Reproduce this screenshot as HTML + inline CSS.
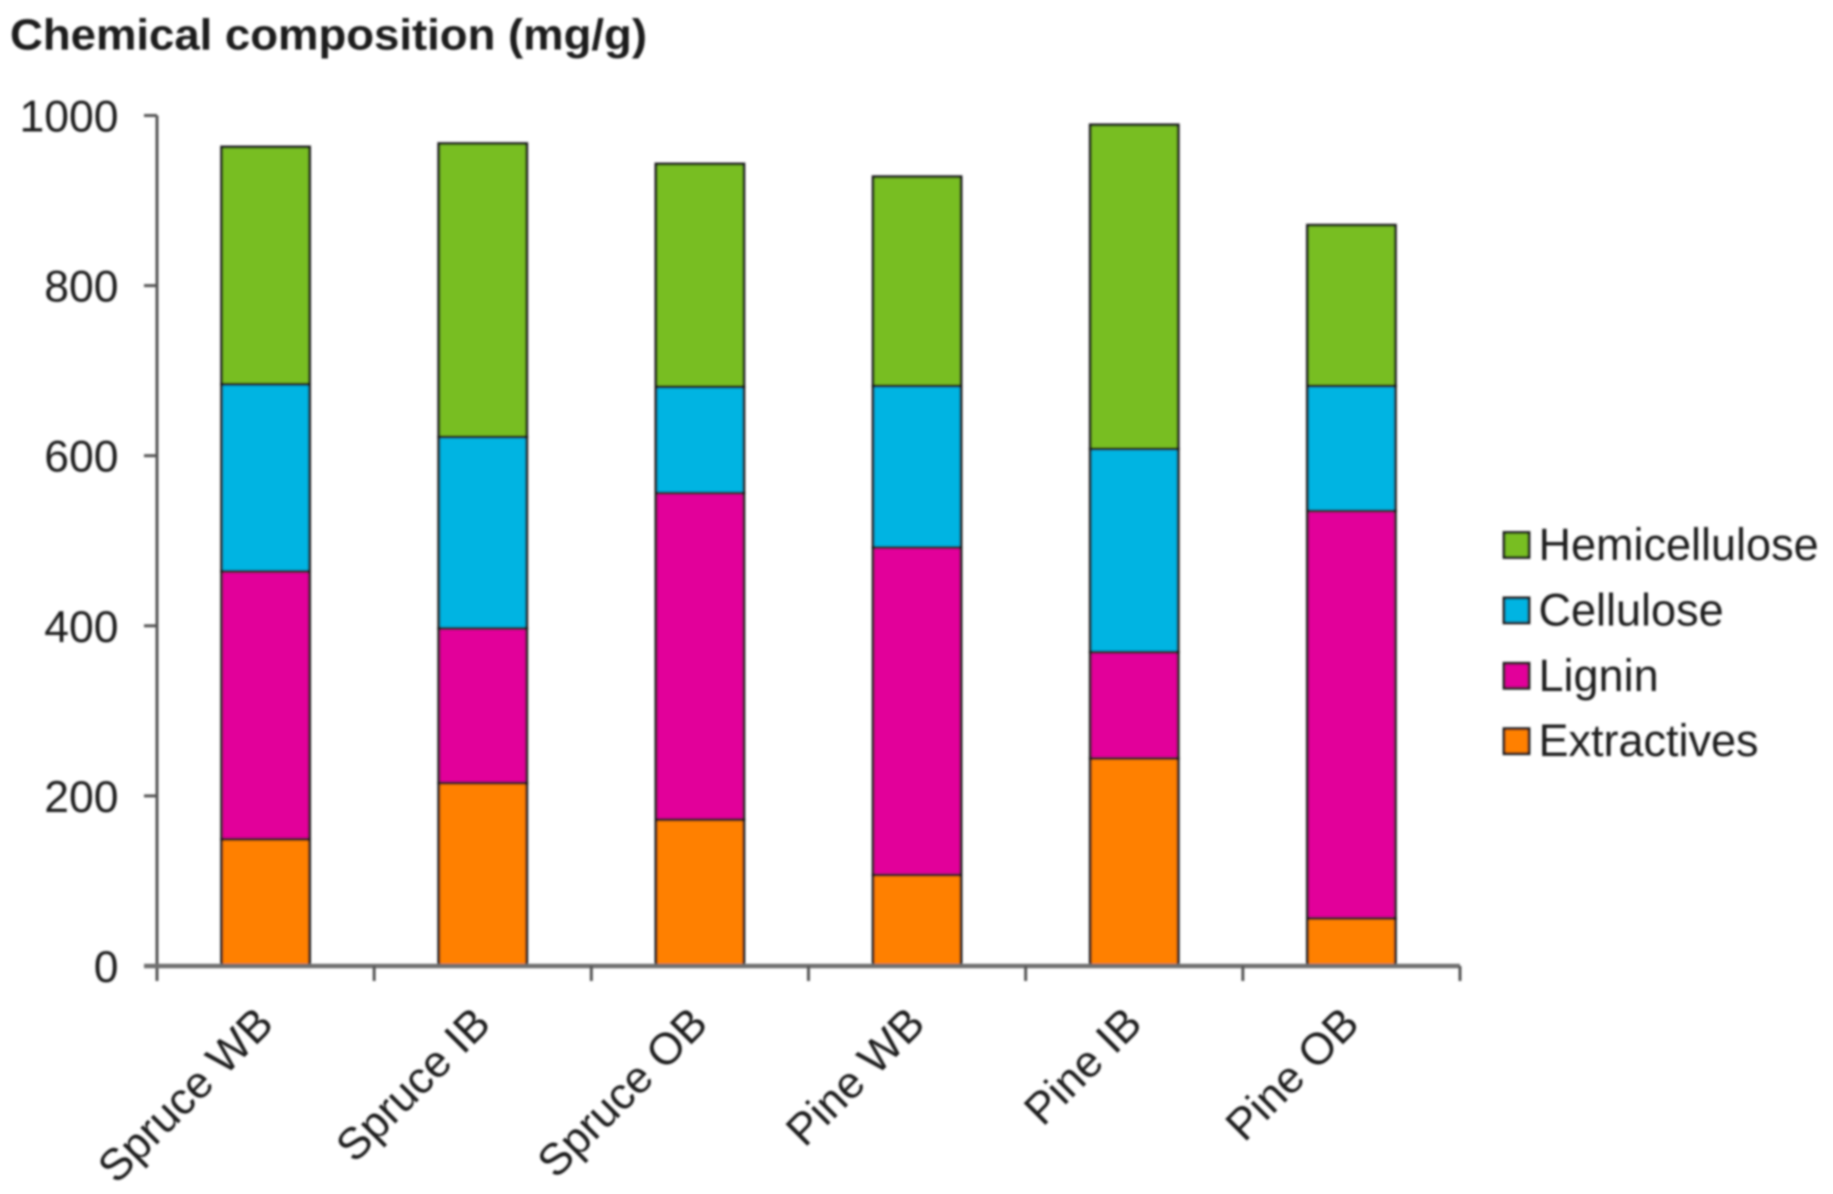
<!DOCTYPE html>
<html>
<head>
<meta charset="utf-8">
<title>Chemical composition</title>
<style>
html,body{margin:0;padding:0;background:#fff;}
svg{display:block;}
text{font-family:"Liberation Sans",sans-serif;fill:#1e1e1e;}
</style>
</head>
<body>
<svg id="chart" width="1833" height="1194" viewBox="0 0 1833 1194" xmlns="http://www.w3.org/2000/svg">
<defs><filter id="soft" x="0" y="0" width="1833" height="1194" filterUnits="userSpaceOnUse" primitiveUnits="userSpaceOnUse"><feGaussianBlur stdDeviation="1"/></filter></defs>
<rect width="1833" height="1194" fill="#fff"/>
<g id="root" filter="url(#soft)">
<text x="10" y="49.5" font-size="44" font-weight="bold" textLength="637" lengthAdjust="spacingAndGlyphs">Chemical composition (mg/g)</text>
</g>
</svg>
<script>
const categories = ["Spruce WB", "Spruce IB", "Spruce OB", "Pine WB", "Pine IB", "Pine OB"];
const extractives = [149, 215, 172, 107, 244, 56];
const lignin = [315, 182, 384, 385, 125, 479];
const cellulose = [220, 225, 125, 190, 239, 147];
const hemicellulose = [279, 345, 262, 246, 381, 189];
const yTicks = [0, 200, 400, 600, 800, 1000];
const seriesNames = ["Extractives", "Lignin", "Cellulose", "Hemicellulose"];

const seriesValues = [extractives, lignin, cellulose, hemicellulose];
const seriesColors = ["#ff8000", "#e2009a", "#00b4e2", "#78be20"];
const NS = "http://www.w3.org/2000/svg";
const root = document.getElementById("root");
const plotLeft = 157, plotRight = 1460, plotBottom = 966, plotTop = 115.5;
const bandWidth = (plotRight - plotLeft) / categories.length;
const barWidth = 88;
function xBand(i) { return plotLeft + bandWidth * i; }
function xCenter(i) { return xBand(i) + bandWidth / 2; }
function yScale(v) { return plotBottom - (v / 1000) * (plotBottom - plotTop); }
function make(tag, attrs, parent) {
  const el = document.createElementNS(NS, tag);
  for (const k in attrs) el.setAttribute(k, attrs[k]);
  (parent || root).appendChild(el);
  return el;
}

// bars
categories.forEach(function (cat, i) {
  let sum = 0;
  seriesValues.forEach(function (vals, s) {
    const y0 = yScale(sum);
    sum += vals[i];
    const y1 = yScale(sum);
    const r = make("rect", { x: xCenter(i) - barWidth / 2, y: y1, width: barWidth, height: y0 - y1, fill: seriesColors[s], stroke: "#1c1c1c", "stroke-width": 2.8 });
    
    
  });
});

// y axis
const yAxis = make("line", { x1: plotLeft, x2: plotLeft, y1: plotTop, y2: plotBottom + 15, stroke: "#555", "stroke-width": 3 });


yTicks.forEach(function (t) {
  const y = yScale(t);
  const tick = make("line", { x1: plotLeft - 13, x2: plotLeft, y1: y, y2: y, stroke: "#555", "stroke-width": 3 });
  
  
  const label = make("text", { x: 118.5, y: y + 16, "font-size": 44.5, "text-anchor": "end" });
  label.textContent = String(t);
  
  
});

// x axis
const xAxis = make("line", { x1: plotLeft - 13, x2: plotRight, y1: plotBottom, y2: plotBottom, stroke: "#707070", "stroke-width": 4.5 });


for (let i = 1; i <= categories.length; i++) {
  const tick = make("line", { x1: xBand(i), x2: xBand(i), y1: plotBottom, y2: plotBottom + 15, stroke: "#555", "stroke-width": 3 });
  
  
}
categories.forEach(function (cat, i) {
  const px = xCenter(i) + 10, py = 1026;
  const label = make("text", { x: px, y: py, "font-size": 44.5, "text-anchor": "end", transform: "rotate(-45 " + px + " " + py + ")" });
  label.textContent = cat;
  
  
});

// legend (top to bottom is reverse stacking order)
for (let s = seriesNames.length - 1; s >= 0; s--) {
  const row = seriesNames.length - 1 - s;
  const cy = 545 + row * 65.4;
  const swatch = make("rect", { x: 1504, y: cy - 12.5, width: 25, height: 25, fill: seriesColors[s], stroke: "#1c1c1c", "stroke-width": 2.8 });
  
  
  const label = make("text", { x: 1538.5, y: cy + 15, "font-size": 45 });
  label.textContent = seriesNames[s];
  
  
}
</script>
</body>
</html>
